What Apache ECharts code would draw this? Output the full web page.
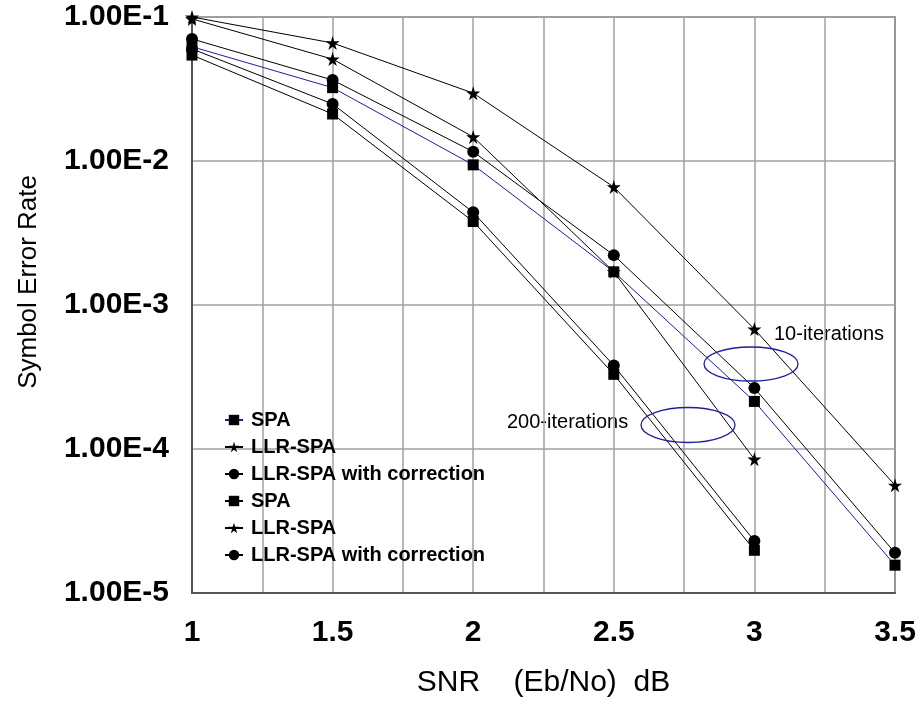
<!DOCTYPE html>
<html>
<head>
<meta charset="utf-8">
<script src="https://cdn.jsdelivr.net/npm/echarts@6/dist/echarts.min.js"></script>
<style>
	html, body { margin: 0; padding: 0; background: #fff; }
	#main { width: 924px; height: 709px; }
</style>
</head>
<body>
<div id="main"></div>
<script>
// SNR points (dB)
var snr10 = [1, 1.5, 2, 2.5, 3, 3.5];
var snr200 = [1, 1.5, 2, 2.5, 3];

// 10 iterations
var spa10 = [0.0622, 0.0323, 0.0094, 0.0017, 0.000214, 1.56e-5];
var llr10 = [0.1, 0.066, 0.0296, 0.0066, 0.00068, 5.6e-5];
var llrc10 = [0.0704, 0.0365, 0.0116, 0.00222, 0.000265, 1.9e-5];

// 200 iterations
var spa200 = [0.0544, 0.0212, 0.0038, 0.00033, 1.98e-5];
var llr200 = [0.097, 0.051, 0.0147, 0.0017, 8.5e-5];
var llrc200 = [0.060, 0.0249, 0.0044, 0.00038, 2.3e-5];

var xTicks = [1, 1.5, 2, 2.5, 3, 3.5];

var starPath = 'path://M50,0 L61,35 L98,35 L68,57 L79,91 L50,70 L21,91 L32,57 L2,35 L39,35 Z';
var blue = '#1e1e9e';

function pairs(xs, ys) {
	let out = [];
	for (let i = 0; i < ys.length; i++) {
		out.push([xs[i], ys[i]]);
	}
	return out;
}

function makeSeries(name, xs, ys, symbol, size, color) {
	return {
		name: name,
		type: 'line',
		data: pairs(xs, ys),
		symbol: symbol,
		symbolSize: size,
		showAllSymbol: true,
		clip: true,
		lineStyle: { color: color, width: 1 },
		itemStyle: { color: '#000' },
		emphasis: { disabled: true },
		z: color == blue ? 3 : 2
	};
}

var chart = echarts.init(document.getElementById('main'));

var option = {
	animation: false,
	backgroundColor: '#fff',
	grid: {
		left: 192,
		right: 29,
		top: 17,
		bottom: 116,
		show: true,
		borderColor: '#555',
		borderWidth: 1.5
	},
	legend: {
		orient: 'vertical',
		left: 219,
		top: 405,
		itemWidth: 18,
		itemHeight: 13,
		itemGap: 7,
		backgroundColor: 'rgba(0,0,0,0)',
		formatter: function(name) { return name.trim(); },
		textStyle: {
			fontFamily: 'Liberation Sans, Arial, sans-serif',
			fontWeight: 'bold',
			fontSize: 20,
			color: '#000',
			padding: [0, 0, 0, 3]
		},
		data: ['SPA', 'LLR-SPA', 'LLR-SPA with correction', 'SPA ', 'LLR-SPA ', 'LLR-SPA with correction ']
	},
	xAxis: {
		type: 'value',
		min: 1,
		max: 3.5,
		interval: 0.25,
		name: 'SNR    (Eb/No)  dB',
		nameLocation: 'middle',
		nameGap: 75,
		nameTextStyle: {
			fontFamily: 'Liberation Sans, Arial, sans-serif',
			fontSize: 30,
			color: '#000'
		},
		axisLine: { show: true, lineStyle: { color: '#555', width: 2 } },
		axisTick: { show: false },
		axisLabel: {
			margin: 25,
			showMinLabel: true,
			showMaxLabel: true,
			fontFamily: 'Liberation Sans, Arial, sans-serif',
			fontWeight: 'bold',
			fontSize: 30,
			color: '#000',
			formatter: function(v) {
				for (let i = 0; i < xTicks.length; i++) {
					if (Math.abs(xTicks[i] - v) < 1e-6) return String(xTicks[i]);
				}
				return '';
			}
		},
		splitLine: { show: true, lineStyle: { color: '#a0a0a0', width: 1.5 } }
	},
	yAxis: {
		type: 'log',
		logBase: 10,
		min: 1e-5,
		max: 0.1,
		axisLine: { show: true, lineStyle: { color: '#555', width: 2 } },
		axisTick: { show: false },
		axisLabel: {
			margin: 23,
			fontFamily: 'Liberation Sans, Arial, sans-serif',
			fontWeight: 'bold',
			fontSize: 30,
			color: '#000',
			formatter: function(v) {
				return '1.00E-' + Math.round(-Math.log10(v));
			}
		},
		splitLine: { show: true, lineStyle: { color: '#a0a0a0', width: 1.5 } }
	},
	graphic: [
		{
			type: 'text',
			left: 16,
			top: 175,
			rotation: Math.PI / 2,
			style: {
				text: 'Symbol Error Rate',
				fontFamily: 'Liberation Sans, Arial, sans-serif',
				fontSize: 26,
				fill: '#000'
			}
		},
		{
			type: 'text',
			left: 774,
			top: 324,
			style: {
				text: '10-iterations',
				fontFamily: 'Liberation Sans, Arial, sans-serif',
				fontSize: 20,
				fill: '#000'
			}
		},
		{
			type: 'text',
			left: 507,
			top: 412,
			style: {
				text: '200-iterations',
				fontFamily: 'Liberation Sans, Arial, sans-serif',
				fontSize: 20,
				fill: '#000'
			}
		},
		{
			type: 'ellipse',
			shape: { cx: 751, cy: 364, rx: 47, ry: 17 },
			style: { fill: 'none', stroke: blue, lineWidth: 1.3 },
			z: 10
		},
		{
			type: 'ellipse',
			shape: { cx: 688, cy: 425, rx: 47, ry: 17.5 },
			style: { fill: 'none', stroke: blue, lineWidth: 1.3 },
			z: 10
		}
	],
	series: [
		makeSeries('SPA', snr10, spa10, 'rect', 11, blue),
		makeSeries('LLR-SPA', snr10, llr10, starPath, 14, '#000'),
		makeSeries('LLR-SPA with correction', snr10, llrc10, 'circle', 12, '#000'),
		makeSeries('SPA ', snr200, spa200, 'rect', 11, '#000'),
		makeSeries('LLR-SPA ', snr200, llr200, starPath, 14, '#000'),
		makeSeries('LLR-SPA with correction ', snr200, llrc200, 'circle', 12, '#000')
	]
};

chart.setOption(option);
</script>
</body>
</html>
